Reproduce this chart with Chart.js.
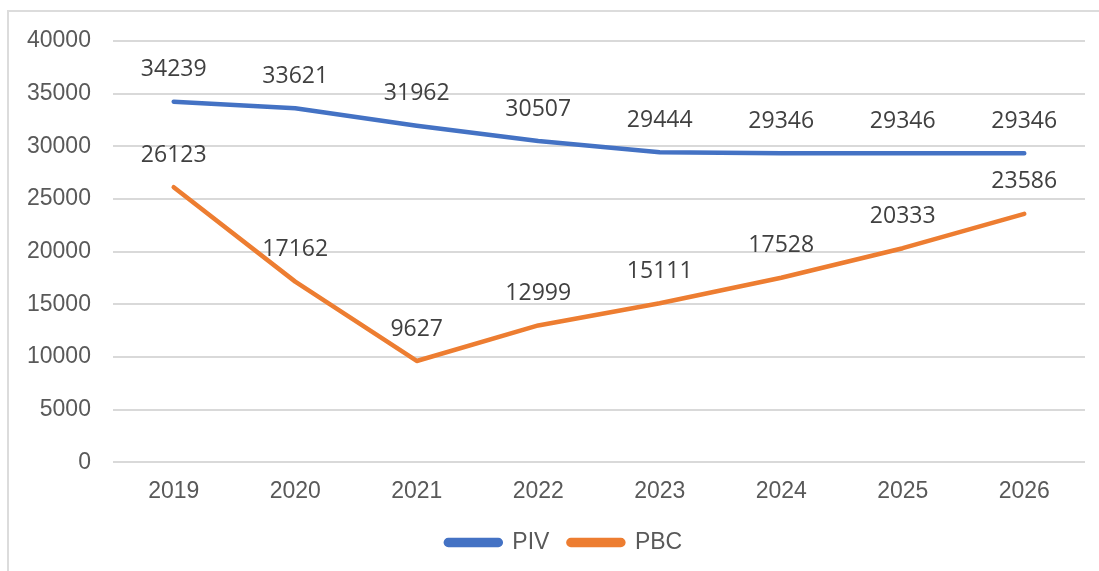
<!DOCTYPE html>
<html>
<head>
<meta charset="utf-8">
<script src="https://cdn.jsdelivr.net/npm/chart.js@4.4.0/dist/chart.umd.min.js"></script>
<style>
  html, body { margin: 0; padding: 0; background: #fff; }
  #wrap { position: relative; width: 1099px; height: 571px; overflow: hidden; }
  #frame { position: absolute; left: 7px; top: 10px; width: 1200px; height: 700px; border-left: 2px solid #dcdcdc; border-top: 2px solid #dcdcdc; }
  canvas { position: absolute; left: 0; top: 0; }
</style>
</head>
<body>
<div id="wrap">
  <div id="frame"></div>
  <canvas id="chart" width="1099" height="571"></canvas>
</div>
<script>
// chart data
const years = ['2019', '2020', '2021', '2022', '2023', '2024', '2025', '2026'];
const pivValues = [34239, 33621, 31962, 30507, 29444, 29346, 29346, 29346];
const pbcValues = [26123, 17162, 9627, 12999, 15111, 17528, 20333, 23586];
const yTicks = [0, 5000, 10000, 15000, 20000, 25000, 30000, 35000, 40000];

const colors = { piv: '#4472C4', pbc: '#ED7D31', grid: '#d9d9d9', axisText: '#595959', label: '#404040' };
const axisFont = { family: 'Arial, "Liberation Sans", sans-serif', size: 23 };

// value labels above each point
const pointLabels = {
  id: 'pointLabels',
  afterDatasetsDraw(chart) {
    const ctx = chart.ctx;
    ctx.save();
    ctx.font = '23px "Open Sans", sans-serif';
    ctx.fillStyle = colors.label;
    ctx.textAlign = 'center';
    ctx.textBaseline = 'middle';
    chart.data.datasets.forEach((ds, i) => {
      chart.getDatasetMeta(i).data.forEach((pt, j) => {
        ctx.fillText(String(ds.data[j]), pt.x, pt.y - 32);
      });
    });
    ctx.restore();
  }
};

// nudge the legend a bit to the right, like the original
const legendShift = {
  id: 'legendShift',
  afterLayout(chart) {
    chart.legend.left += 19;
    chart.legend.right += 19;
  }
};

new Chart(document.getElementById('chart'), {
  type: 'line',
  data: {
    labels: years,
    datasets: [
      { label: 'PIV', data: pivValues, borderColor: colors.piv, backgroundColor: colors.piv, borderWidth: 4.5, pointRadius: 0, tension: 0, borderCapStyle: 'round', borderJoinStyle: 'round' },
      { label: 'PBC', data: pbcValues, borderColor: colors.pbc, backgroundColor: colors.pbc, borderWidth: 4.5, pointRadius: 0, tension: 0, borderCapStyle: 'round', borderJoinStyle: 'round' }
    ]
  },
  options: {
    responsive: false,
    animation: false,
    layout: { padding: { left: 5, right: 14, top: 41, bottom: 7 } },
    plugins: {
      tooltip: { enabled: false },
      legend: {
        position: 'bottom',
        labels: {
          boxWidth: 55, boxHeight: 5, useBorderRadius: true, borderRadius: 2.5,
          color: colors.axisText, font: axisFont, padding: 19
        }
      }
    },
    scales: {
      x: {
        offset: true,
        grid: { display: false },
        border: { display: false },
        ticks: { color: colors.axisText, font: axisFont, padding: 7 }
      },
      y: {
        min: 0, max: 40000,
        afterBuildTicks: axis => { axis.ticks = yTicks.map(v => ({ value: v })); },
        grid: { color: colors.grid, lineWidth: 2, drawTicks: false },
        border: { display: false },
        ticks: { color: colors.axisText, font: axisFont, padding: 22, callback: v => String(v) }
      }
    }
  },
  plugins: [pointLabels, legendShift]
});
</script>
</body>
</html>
